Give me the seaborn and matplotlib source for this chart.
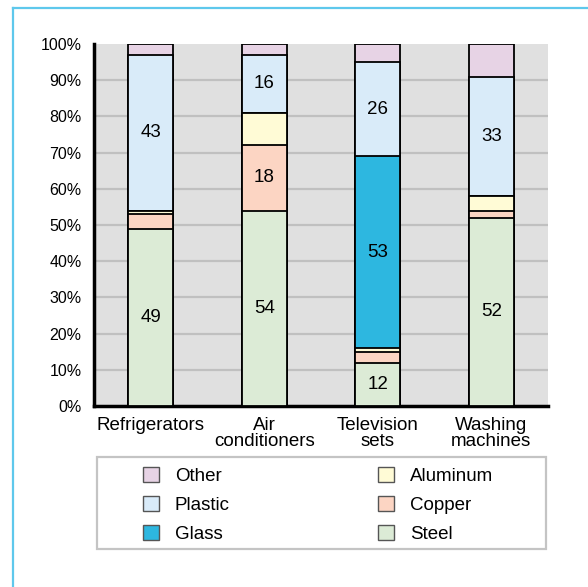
import matplotlib
matplotlib.use("Agg")
import matplotlib.pyplot as plt
import numpy as np
import pandas as pd
import seaborn as sns
from matplotlib.patches import Rectangle, Patch
from matplotlib.lines import Line2D
from matplotlib.ticker import FixedLocator, PercentFormatter

# Material composition of household appliances (% by weight)
appliances = ["Refrigerators", "Air\nconditioners", "Television\nsets", "Washing\nmachines"]
materials = ["Steel", "Copper", "Aluminum", "Glass", "Plastic", "Other"]  # stacked bottom to top
steel = [49, 54, 12, 52]
copper = [4, 18, 3, 2]
aluminum = [1, 9, 1, 4]
glass = [0, 0, 53, 0]
plastic = [43, 16, 26, 33]
other = [3, 3, 5, 9]

palette = {
    "Steel": "#dcebd6",
    "Copper": "#fcd5c3",
    "Aluminum": "#fffbd6",
    "Glass": "#2db7e0",
    "Plastic": "#d9ebf9",
    "Other": "#e7d3e5",
}

sns.set_style("white")
plt.rcParams["font.family"] = ["Liberation Sans", "DejaVu Sans"]
plt.rcParams["text.color"] = "black"
plt.rcParams["xtick.color"] = "black"
plt.rcParams["ytick.color"] = "black"
plt.rcParams["xtick.labelcolor"] = "black"
plt.rcParams["ytick.labelcolor"] = "black"

shares = pd.DataFrame(
    {"Steel": steel, "Copper": copper, "Aluminum": aluminum,
     "Glass": glass, "Plastic": plastic, "Other": other},
    index=appliances,
)
tops = shares.cumsum(axis=1)

W, H = 588, 587
fig = plt.figure(figsize=(W / 100, H / 100), dpi=100)
ax = fig.add_axes([94 / W, 1 - 406 / H, (548 - 94) / W, (406 - 44) / H])
ax.set_facecolor("#e0e0e0")

# stacked bars: draw cumulative totals from the top layer down
for mat in reversed(materials):
    sns.barplot(x=appliances, y=tops[mat].values, color=palette[mat],
                saturation=1, edgecolor="black", linewidth=1.3,
                width=0.4, ax=ax, zorder=3)

# value labels on the larger segments
for mat in materials:
    for i, v in enumerate(shares[mat].values):
        if v >= 10:
            ax.text(i, tops[mat].values[i] - v / 2, str(v), ha="center",
                    va="center", fontsize=13.5, color="black", zorder=5)

ax.set_xlim(-0.5, 3.5)
ax.set_ylim(0, 100)
ax.set_xlabel("")
ax.set_ylabel("")
ax.yaxis.set_major_locator(FixedLocator(list(range(0, 101, 10))))
ax.yaxis.set_major_formatter(PercentFormatter(decimals=0))
ax.tick_params(axis="y", direction="in", length=7, width=2, pad=9,
               labelsize=11.5, colors="black")
ax.set_xticks(range(len(appliances)))
ax.set_xticklabels(appliances, linespacing=0.95)
ax.tick_params(axis="x", which="major", length=0, pad=8, labelsize=13.5,
               colors="black")
ax.set_xticks([0.5, 1.5, 2.5, 3.5], minor=True)
ax.tick_params(axis="x", which="minor", direction="in", length=6, width=2,
               colors="black")

ax.set_axisbelow(True)
ax.yaxis.grid(True, color="#c0c0c0", linewidth=1.6)
gl = ax.get_ygridlines()
gl[0].set_visible(False)
gl[-1].set_visible(False)

for side in ("top", "right"):
    ax.spines[side].set_visible(False)
for side in ("left", "bottom"):
    ax.spines[side].set_color("black")
    ax.spines[side].set_linewidth(2.5)

# legend in two columns inside a grey frame
def swatch(mat):
    return Patch(facecolor=palette[mat], edgecolor="#555555", linewidth=1, label=mat)

leg_kw = dict(loc="upper left", frameon=False, fontsize=13.5, handlelength=0.85,
              handleheight=0.85, handletextpad=0.85, labelspacing=0.6,
              borderpad=0, borderaxespad=0, labelcolor="black")
fig.legend(handles=[swatch(m) for m in ["Other", "Plastic", "Glass"]],
           bbox_to_anchor=(143 / W, 1 - 467 / H), **leg_kw)
fig.legend(handles=[swatch(m) for m in ["Aluminum", "Copper", "Steel"]],
           bbox_to_anchor=(378 / W, 1 - 467 / H), **leg_kw)
fig.add_artist(Rectangle((97 / W, 1 - 549 / H), (546 - 97) / W, (549 - 457) / H,
                         transform=fig.transFigure, fill=False,
                         edgecolor="#c4c4c4", linewidth=1.6))

# light blue page frame
frame_kw = dict(color="#5ec8ec", linewidth=1.6, transform=fig.transFigure,
                solid_capstyle="projecting")
fig.add_artist(Line2D([12.5 / W, 12.5 / W], [0, 1 - 7.5 / H], **frame_kw))
fig.add_artist(Line2D([12.5 / W, 1], [1 - 7.5 / H, 1 - 7.5 / H], **frame_kw))

fig.savefig("out.png", dpi=100)
